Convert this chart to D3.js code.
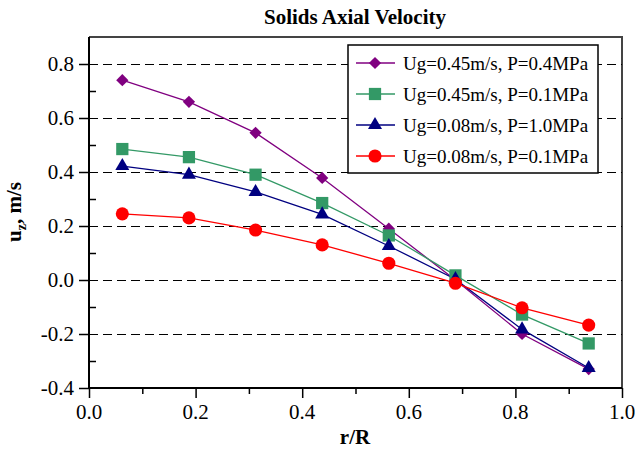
<!DOCTYPE html>
<html lang="en">
<head>
<meta charset="utf-8">
<title>Solids Axial Velocity</title>
<script src="https://cdn.jsdelivr.net/npm/d3@7"></script>
<style>
  body { margin: 0; background: #fff; }
  svg text { font-family: "Liberation Serif", "Times New Roman", serif; }
</style>
</head>
<body>
<script>
var W = 635, H = 451;
var margin = {left: 89, right: 13, top: 37, bottom: 63};

// data
var rR = [0.0625, 0.1875, 0.3125, 0.4375, 0.5625, 0.6875, 0.8125, 0.9375];
var ug045p04 = [0.74, 0.66, 0.545, 0.378, 0.19, 0.0, -0.2, -0.33];
var ug045p01 = [0.485, 0.455, 0.39, 0.285, 0.165, 0.017, -0.128, -0.235];
var ug008p10 = [0.422, 0.39, 0.326, 0.243, 0.126, 0.003, -0.183, -0.326];
var ug008p01 = [0.245, 0.23, 0.185, 0.13, 0.062, -0.012, -0.103, -0.167];
var seriesNames = ["Ug=0.45m/s, P=0.4MPa", "Ug=0.45m/s, P=0.1MPa", "Ug=0.08m/s, P=1.0MPa", "Ug=0.08m/s, P=0.1MPa"];
var xTicks = [0, 0.2, 0.4, 0.6, 0.8, 1.0];
var yTicks = [-0.4, -0.2, 0, 0.2, 0.4, 0.6, 0.8];
var xLabels = ["0.0", "0.2", "0.4", "0.6", "0.8", "1.0"];
var yLabels = ["-0.4", "-0.2", "0.0", "0.2", "0.4", "0.6", "0.8"];

// diamond = square turned 45deg
var series = [
  {name: seriesNames[0], vals: ug045p04, color: "#800080", sym: d3.symbolSquare, size: 75, rot: 45},
  {name: seriesNames[1], vals: ug045p01, color: "#339966", sym: d3.symbolSquare, size: 150, rot: 0},
  {name: seriesNames[2], vals: ug008p10, color: "#000080", sym: d3.symbolTriangle, size: 85, rot: 0},
  {name: seriesNames[3], vals: ug008p01, color: "#ff0000", sym: d3.symbolCircle, size: 135, rot: 0}
];

var svg = d3.select("body").append("svg")
  .attr("width", W).attr("height", H);

var x = d3.scaleLinear().domain([0, 1]).range([margin.left, W - margin.right]);
var y = d3.scaleLinear().domain([-0.4, 0.9]).range([H - margin.bottom, margin.top]);

// frame top/right
svg.append("path")
  .attr("d", "M" + x(0) + "," + y(0.9) + "H" + x(1) + "V" + y(-0.4))
  .attr("fill", "none").attr("stroke", "#444").attr("stroke-width", 2);

// dashed gridlines
svg.append("g").selectAll("line")
  .data(yTicks.filter(function (d) { return d > -0.4; }))
  .enter().append("line")
  .attr("x1", x(0)).attr("x2", x(1))
  .attr("y1", function (d) { return Math.round(y(d)) + 0.5; })
  .attr("y2", function (d) { return Math.round(y(d)) + 0.5; })
  .attr("stroke", "#000").attr("stroke-dasharray", "9,5");

// axes (ticks only, labels drawn below)
var xAxis = svg.append("g")
  .attr("transform", "translate(0," + y(-0.4) + ")")
  .call(d3.axisBottom(x).tickValues(xTicks).tickFormat("").tickSize(10));
svg.append("g")
  .attr("transform", "translate(0," + y(-0.4) + ")")
  .call(d3.axisBottom(x).tickValues([0.1, 0.3, 0.5, 0.7, 0.9]).tickFormat("").tickSize(6))
  .select(".domain").remove();

var yAxis = svg.append("g")
  .attr("transform", "translate(" + x(0) + ",0)")
  .call(d3.axisLeft(y).tickValues(yTicks).tickFormat("").tickSize(10));
svg.append("g")
  .attr("transform", "translate(" + x(0) + ",0)")
  .call(d3.axisRight(y).tickValues([-0.3, -0.1, 0.1, 0.3, 0.5, 0.7]).tickFormat("").tickSize(7))
  .select(".domain").remove();

svg.selectAll(".domain").attr("stroke", "#000").attr("stroke-width", 2);
svg.selectAll(".tick line").attr("stroke", "#000").attr("stroke-width", 1.5);
yAxis.selectAll("path.domain").attr("d", "M0," + y(-0.4) + "V" + y(0.9));
xAxis.selectAll("path.domain").attr("d", "M" + x(0) + ",0H" + x(1));

svg.append("g").selectAll("text").data(xTicks).enter().append("text")
  .attr("x", function (d) { return x(d); })
  .attr("y", y(-0.4) + 31)
  .attr("text-anchor", "middle")
  .style("font-size", "21px")
  .text(function (d, i) { return xLabels[i]; });
svg.append("g").selectAll("text").data(yTicks).enter().append("text")
  .attr("x", x(0) - 15)
  .attr("y", function (d) { return y(d) + 7; })
  .attr("text-anchor", "end")
  .style("font-size", "21px")
  .text(function (d, i) { return yLabels[i]; });

// lines and markers
var line = d3.line()
  .x(function (d, i) { return x(rR[i]); })
  .y(function (d) { return y(d); });

series.forEach(function (s) {
  svg.append("path").datum(s.vals)
    .attr("d", line).attr("fill", "none")
    .attr("stroke", s.color).attr("stroke-width", 1.3);
});
series.forEach(function (s) {
  svg.append("g").selectAll("path").data(s.vals).enter().append("path")
    .attr("d", d3.symbol().type(s.sym).size(s.size))
    .attr("transform", function (d, i) {
      return "translate(" + x(rR[i]) + "," + y(d) + ") rotate(" + s.rot + ")";
    })
    .attr("fill", s.color);
});

// legend
var lg = svg.append("g").attr("transform", "translate(348,45)");
lg.append("rect").attr("width", 250).attr("height", 128)
  .attr("fill", "#fff").attr("stroke", "#000").attr("stroke-width", 1.5);
series.forEach(function (s, i) {
  var yy = 18 + i * 31;
  lg.append("line").attr("x1", 8).attr("x2", 47).attr("y1", yy).attr("y2", yy)
    .attr("stroke", s.color).attr("stroke-width", 1.5);
  lg.append("path").attr("d", d3.symbol().type(s.sym).size(s.size))
    .attr("transform", "translate(27," + yy + ") rotate(" + s.rot + ")").attr("fill", s.color);
  lg.append("text").attr("x", 55).attr("y", yy + 6.5)
    .style("font-size", "19px").text(s.name);
});

// titles
svg.append("text").attr("x", 355).attr("y", 23.5).attr("text-anchor", "middle")
  .style("font-size", "21px").attr("font-weight", "bold").text("Solids Axial Velocity");
svg.append("text").attr("x", 355).attr("y", 444).attr("text-anchor", "middle")
  .style("font-size", "21px").attr("font-weight", "bold").text("r/R");
var yl = svg.append("text")
  .attr("transform", "translate(21,212) rotate(-90)")
  .attr("text-anchor", "middle").style("font-size", "21px").attr("font-weight", "bold");
yl.append("tspan").text("u");
yl.append("tspan").style("font-size", "14px").attr("dy", 5).text("z");
yl.append("tspan").attr("dy", -5).text(", m/s");
</script>
</body>
</html>
